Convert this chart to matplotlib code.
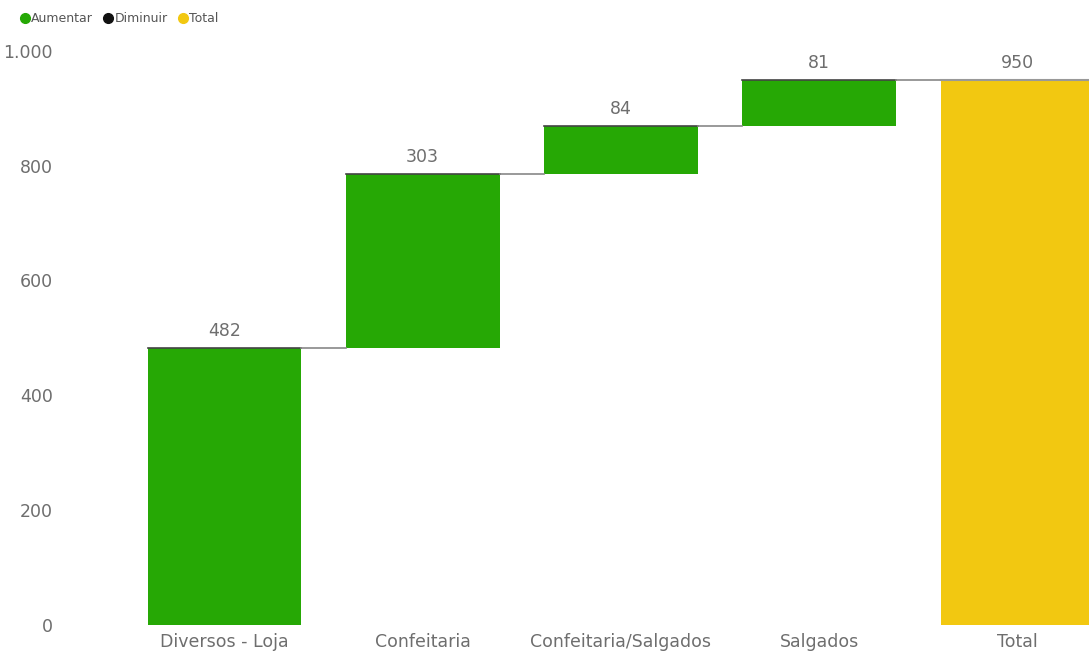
import matplotlib.pyplot as plt
from matplotlib.lines import Line2D
from matplotlib.ticker import FuncFormatter
import numpy as np

categories = ["Diversos - Loja", "Confeitaria", "Confeitaria/Salgados", "Salgados", "Total"]
increments = [482, 303, 84, 81]
total = 950

GREEN = "#26a805"
YELLOW = "#f2c811"
TXT = "#6e6e6e"

fig = plt.figure(figsize=(10.89, 6.52), dpi=100)
ax = fig.add_axes([0.064, 0.042, 0.936, 0.88])

x = np.arange(len(categories))
w = 0.775
starts = np.concatenate([[0], np.cumsum(increments)[:-1]])
ends = np.cumsum(increments)

ax.bar(x[:-1], increments, bottom=starts, width=w, color=GREEN, zorder=2)
ax.bar(x[-1], total, width=w, color=YELLOW, zorder=2)

# connectors
for i, e in enumerate(ends):
    ax.plot([x[i] - w / 2, x[i] + w / 2], [e, e], color="#444444", lw=1.2, zorder=3)
    ax.plot([x[i] + w / 2, x[i + 1] - w / 2], [e, e], color="#888888", lw=1.2, zorder=3)
ax.plot([x[-1] - w / 2, x[-1] + w / 2], [total, total], color="#999999", lw=1.5, zorder=3)

labels = increments + [total]
tops = list(ends) + [total]
for xi, t, v in zip(x, tops, labels):
    ax.text(xi, t + 14, str(v), ha="center", va="bottom", fontsize=12.5,
            color=TXT, family="DejaVu Sans")

ax.set_xlim(-0.78, 4.36)
ax.set_ylim(0, 1000)
ax.set_yticks([0, 200, 400, 600, 800, 1000])
ax.yaxis.set_major_formatter(FuncFormatter(lambda v, p: f"{int(v):,}".replace(",", ".")))
ax.set_xticks(x)
ax.set_xticklabels(categories)
ax.tick_params(axis="both", length=0, labelsize=12.5, colors=TXT)
ax.tick_params(axis="y", pad=12)
ax.tick_params(axis="x", pad=6)
for s in ax.spines.values():
    s.set_visible(False)

handles = [Line2D([], [], marker="o", ls="", color=c, markersize=7)
           for c in [GREEN, "#111111", YELLOW]]
fig.legend(handles, ["Aumentar", "Diminuir", "Total"], loc="upper left",
           bbox_to_anchor=(0.0, 1.0), ncol=3, frameon=False, fontsize=9,
           handletextpad=-0.5, columnspacing=0.2, labelcolor="#555555",
           borderaxespad=0.6)

fig.savefig("out.png", dpi=100)
